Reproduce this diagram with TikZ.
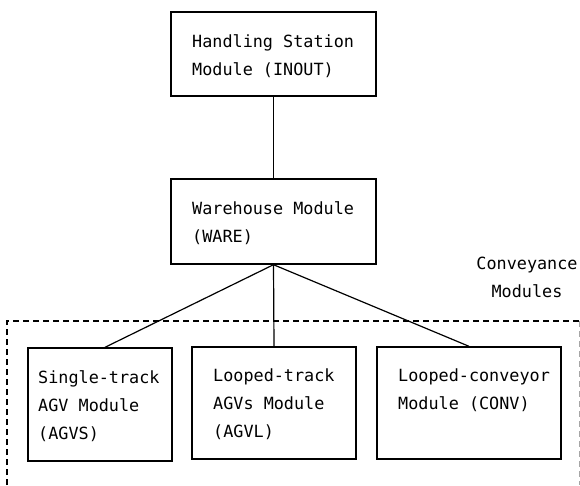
\documentclass[tikz,border=0pt]{standalone}
\usepackage{fontspec}
\newfontfamily\diagmono{DejaVu Sans Mono}
\begin{document}
\begin{tikzpicture}[x=1pt,y=-1pt,
  box/.style={draw=black, line width=1.4pt, rectangle, inner sep=0pt},
  txt/.style={inner sep=0pt, align=left, font=\diagmono\fontsize{16.8}{28}\selectfont, text=black},
  conn/.style={draw=black, line width=1.2pt},
  region/.style={draw=black, line width=1.4pt, dash pattern=on 6pt off 4pt}]
\useasboundingbox (0,0) rectangle (580,485);
% boxes
\node[box, minimum width=205pt, minimum height=84pt] (inout) at (273.5,54) {};
\node[box, minimum width=205pt, minimum height=85pt] (ware) at (273.5,221.5) {};
\node[box, minimum width=144pt, minimum height=113pt] (agvs) at (100,404.5) {};
\node[box, minimum width=164pt, minimum height=112pt] (agvl) at (274,403) {};
\node[box, minimum width=184pt, minimum height=112pt] (conv) at (469,403) {};
% texts (base anchor = baseline of the last line)
\node[txt, anchor=base west] (tinout) at (192,75) {Handling Station\\Module (INOUT)};
\node[txt, anchor=base west] (tware) at (192,242) {Warehouse Module\\(WARE)};
\node[txt, anchor=base west] (tagvs) at (38,439) {Single-track\\AGV Module\\(AGVS)};
\node[txt, anchor=base west] (tagvl) at (213,437) {Looped-track\\AGVs Module\\(AGVL)};
\node[txt, anchor=base west] (tconv) at (398,409) {Looped-conveyor\\Module (CONV)};
\node[txt, align=center, anchor=base] (tregion) at (527,297) {Conveyance\\Modules};
% dashed region
\coordinate (rbl) at (7,485);
\coordinate (rtl) at (7,321);
\coordinate (rtr) at (580,321);
\coordinate (rrt) at (579,321);
\coordinate (rrb) at (579,485);
\draw[region] (rbl) -- (rtl) -- (rtr);
\draw[region, draw=black!35, line width=1pt] (rrt) -- (rrb);
% connectors
\draw[conn] (inout.south) -- (ware.north);
\draw[conn] (ware.south) -- ([xshift=5pt]agvs.north);
\draw[conn] (ware.south) -- (agvl.north);
\draw[conn] (ware.south) -- (conv.north);
\end{tikzpicture}
\end{document}
